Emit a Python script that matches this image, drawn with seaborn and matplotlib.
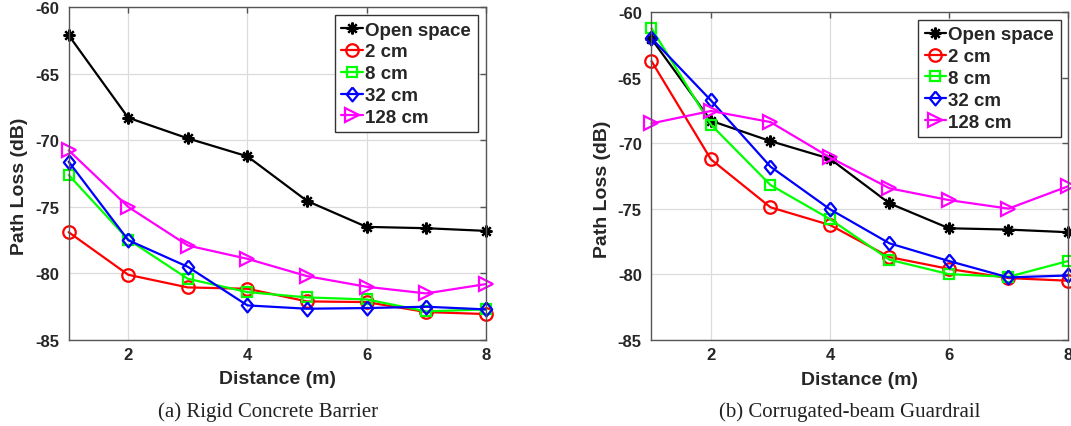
import numpy as np
import pandas as pd
import matplotlib
matplotlib.use("Agg")
import matplotlib.pyplot as plt
import seaborn as sns

# ---------------- data ----------------
distance = [1, 2, 3, 4, 5, 6, 7, 8]
series_names = ["Open space", "2 cm", "8 cm", "32 cm", "128 cm"]
x_ticks = [2, 4, 6, 8]
y_ticks = [-85, -80, -75, -70, -65, -60]

# (a) Rigid Concrete Barrier
a_open = [-62.1, -68.3, -69.85, -71.2, -74.55, -76.5, -76.6, -76.8]
a_2cm = [-76.9, -80.1, -81.05, -81.15, -82.1, -82.15, -82.9, -83.05]
a_8cm = [-72.6, -77.45, -80.4, -81.4, -81.8, -81.95, -82.85, -82.7]
a_32cm = [-71.6, -77.5, -79.5, -82.4, -82.65, -82.6, -82.5, -82.7]
a_128cm = [-70.75, -75.0, -77.9, -78.9, -80.2, -81.0, -81.5, -80.8]

# (b) Corrugated-beam Guardrail
b_open = [-62.05, -68.3, -69.85, -71.2, -74.6, -76.5, -76.6, -76.8]
b_2cm = [-63.75, -71.25, -74.9, -76.25, -78.7, -79.6, -80.3, -80.5]
b_8cm = [-61.25, -68.6, -73.2, -75.8, -78.9, -80.0, -80.2, -79.0]
b_32cm = [-62.0, -66.75, -71.8, -75.05, -77.65, -79.0, -80.25, -80.1]
b_128cm = [-68.5, -67.55, -68.4, -71.1, -73.45, -74.35, -75.0, -73.3]

captions = ["(a) Rigid Concrete Barrier", "(b) Corrugated-beam Guardrail"]

# ---------------- style ----------------
sns.set_theme(style="white")
plt.rcParams["font.family"] = ["Liberation Sans", "DejaVu Sans"]
plt.rcParams["font.weight"] = "bold"
plt.rcParams["axes.labelweight"] = "bold"
plt.rcParams["axes.unicode_minus"] = False

colors = ["#000000", "#ff0000", "#00ff00", "#0000ff", "#ff00ff"]
diamond = [(0, 1), (0.82, 0), (0, -1), (-0.82, 0), (0, 1)]
markers = [(8, 2, 0), "o", "s", diamond, ">"]
msizes = [8.5, 9, 7.5, 10, 10]

fig = plt.figure(figsize=(10.71, 4.27), dpi=100)
ax_a = fig.add_axes([0.0641, 0.2014, 0.3894, 0.7792])
ax_b = fig.add_axes([0.6083, 0.2021, 0.3889, 0.7675])

panels = [
    (ax_a, [a_open, a_2cm, a_8cm, a_32cm, a_128cm], captions[0], 268 / 1071,
     (0.9806, 0.9769), (-0.117, -0.1175, 0.464)),
    (ax_b, [b_open, b_2cm, b_8cm, b_32cm, b_128cm], captions[1], 850 / 1071,
     (0.9825, 0.9765), (-0.12, -0.117, 0.463)),
]

spine_col = "#555555"
text_col = "#262626"

for ax, values, cap, cx, leg_anchor, lab in panels:
    for name, vals, c, m, ms in zip(series_names, values, colors, markers, msizes):
        df = pd.DataFrame({"Distance": distance, "Loss": vals})
        sns.lineplot(data=df, x="Distance", y="Loss", ax=ax, color=c,
                     marker=m, markersize=ms, markerfacecolor="none",
                     markeredgecolor=c, markeredgewidth=1.6, linewidth=1.6,
                     label=name, errorbar=None, clip_on=False, legend=False)
    ax.set_xlim(1, 8)
    ax.set_ylim(-85, -60)
    ax.set_xticks(x_ticks)
    ax.set_yticks(y_ticks)
    ax.grid(True, color="#dcdcdc", linewidth=0.9)
    ax.set_axisbelow(True)
    for s in ax.spines.values():
        s.set_visible(True)
        s.set_color(spine_col)
        s.set_linewidth(1.0)
    ax.tick_params(axis="both", which="major", direction="in", length=4,
                   width=1.0, color=spine_col, top=True, right=True,
                   labelsize=12, labelcolor=text_col)
    ax.tick_params(axis="x", pad=5)
    ax.tick_params(axis="y", pad=7)
    for t in ax.get_xticklabels() + ax.get_yticklabels():
        t.set_fontweight("bold")

    ax.set_xlabel("Distance (m)", fontsize=14, fontweight="bold", color=text_col)
    ax.set_ylabel("Path Loss (dB)", fontsize=14, fontweight="bold", color=text_col)
    ax.xaxis.set_label_coords(0.5, lab[0])
    ax.xaxis.label.set_verticalalignment("center")
    ax.yaxis.set_label_coords(lab[1], lab[2])
    ax.yaxis.label.set_verticalalignment("center")
    ax.yaxis.label.set_horizontalalignment("center")

    leg = ax.legend(loc="upper right", bbox_to_anchor=leg_anchor,
                    borderaxespad=0, fancybox=False, framealpha=1,
                    edgecolor="#333333", handlelength=1.15,
                    handletextpad=0.12, labelspacing=0.25, borderpad=0.35,
                    prop={"family": ["Liberation Sans"], "weight": "bold", "size": 13.5})
    leg.get_frame().set_linewidth(1.0)

    fig.text(cx, 1 - 412 / 427, cap, ha="center", va="center",
             family=["Liberation Serif"], fontsize=15, fontweight="normal",
             color="#222222")

fig.savefig("out.png", dpi=100)
